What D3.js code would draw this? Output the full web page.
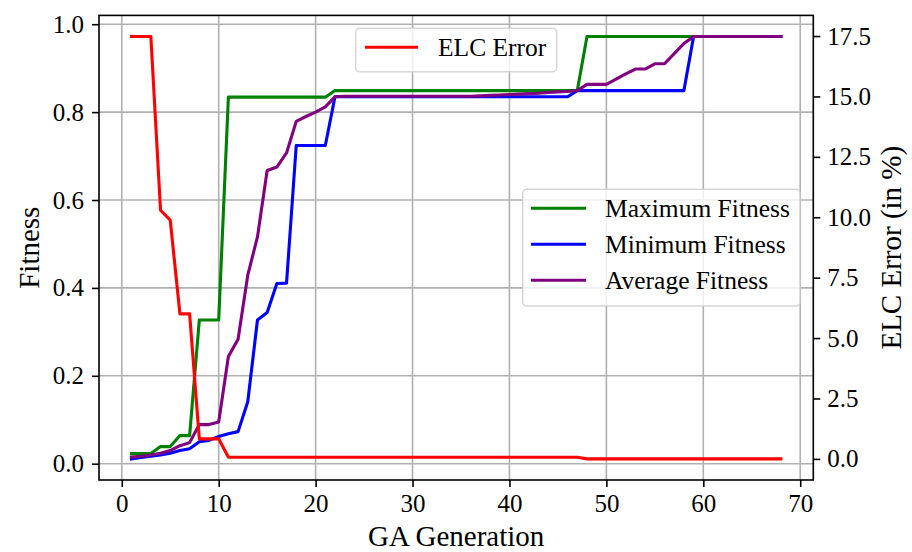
<!DOCTYPE html>
<html><head><meta charset="utf-8">
<script src="https://cdn.jsdelivr.net/npm/d3@7"></script>
<style>
body{margin:0;background:#fff}
svg{display:block}
text{font-family:"Liberation Serif","Times New Roman",serif;fill:#000}
</style>
</head><body><svg id="c" width="912" height="552"></svg>
<script>
const generations = [1,2,3,4,5,6,7,8,9,10,11,12,13,14,15,16,17,18,19,20,21,22,23,24,25,26,27,28,29,30,31,32,33,34,35,36,37,38,39,40,41,42,43,44,45,46,47,48,49,50,51,52,53,54,55,56,57,58,59,60,61,62,63,64,65,66,67,68];
const maxFitness = [0.023,0.023,0.023,0.039,0.039,0.064,0.064,0.327,0.327,0.327,
  0.834,0.834,0.834,0.834,0.834,0.834,0.834,0.834,0.834,0.834,0.834,
  0.849,0.849,0.849,0.849,0.849,0.849,0.849,0.849,0.849,0.849,0.849,0.849,0.849,0.849,0.849,0.849,0.849,0.849,0.849,0.849,0.849,0.849,0.849,0.849,0.849,0.849,
  0.972,0.972,0.972,0.972,0.972,0.972,0.972,0.972,0.972,0.972,0.972,0.972,0.972,0.972,0.972,0.972,0.972,0.972,0.972,0.972,0.972];
const minFitness = [0.011,0.014,0.017,0.020,0.024,0.030,0.034,0.050,0.053,0.062,0.068,0.073,0.141,0.327,0.344,0.410,0.411,0.724,0.724,0.724,0.724,
  0.835,0.835,0.835,0.835,0.835,0.835,0.835,0.835,0.835,0.835,0.835,0.835,0.835,0.835,0.835,0.835,0.835,0.835,0.835,0.835,0.835,0.835,0.835,0.835,0.835,
  0.849,0.849,0.849,0.849,0.849,0.849,0.849,0.849,0.849,0.849,0.849,0.849,
  0.972,0.972,0.972,0.972,0.972,0.972,0.972,0.972,0.972,0.972];
const avgFitness = [0.015,0.017,0.020,0.024,0.030,0.041,0.048,0.089,0.089,0.095,0.244,0.283,0.429,0.516,0.667,0.675,0.707,0.779,0.790,0.800,0.812,
  0.835,0.836,0.836,0.836,0.836,0.836,0.836,0.836,0.836,0.836,0.836,0.836,0.836,0.836,0.836,
  0.837,0.838,0.839,0.840,0.841,0.842,0.843,0.845,0.846,0.847,0.849,
  0.863,0.863,0.863,0.875,0.887,0.898,0.898,0.910,0.910,0.933,0.956,
  0.972,0.972,0.972,0.972,0.972,0.972,0.972,0.972,0.972,0.972];
const elcError = [17.48,17.48,17.48,10.29,9.88,6.0,6.0,0.83,0.83,0.83,
  0.07,0.07,0.07,0.07,0.07,0.07,0.07,0.07,0.07,0.07,0.07,0.07,0.07,0.07,0.07,0.07,0.07,0.07,0.07,0.07,0.07,0.07,0.07,0.07,0.07,0.07,0.07,0.07,0.07,0.07,0.07,0.07,0.07,0.07,0.07,0.07,0.07,
  0.0,0.0,0.0,0.0,0.0,0.0,0.0,0.0,0.0,0.0,0.0,0.0,0.0,0.0,0.0,0.0,0.0,0.0,0.0,0.0,0.0];
const xTicks = [0,10,20,30,40,50,60,70];
const yLeftTicks = [0.0,0.2,0.4,0.6,0.8,1.0];
const yRightTicks = [0.0,2.5,5.0,7.5,10.0,12.5,15.0,17.5];
const fitnessSeries = [
  {name:"Maximum Fitness", values:maxFitness, color:"green"},
  {name:"Minimum Fitness", values:minFitness, color:"blue"},
  {name:"Average Fitness", values:avgFitness, color:"purple"}
];

const L = 99, R = 813.3, T = 15.4, B = 480;
const pad = (arr) => { const lo = d3.min(arr), hi = d3.max(arr), r = hi - lo; return [lo - 0.05*r, hi + 0.05*r]; };
const x = d3.scaleLinear().domain(pad(generations)).range([L, R]);
const yL = d3.scaleLinear().domain(pad([...maxFitness, ...minFitness, ...avgFitness])).range([B, T]);
const yR = d3.scaleLinear().domain(pad(elcError)).range([B, T]);

const svg = d3.select("#c");
svg.append("rect").attr("width",912).attr("height",552).attr("fill","#fff");

// grid
const grid = svg.append("g").attr("stroke","#b0b0b0").attr("stroke-width",1.6);
grid.selectAll("line.v").data(xTicks).join("line").attr("class","v")
  .attr("x1",d=>x(d)).attr("x2",d=>x(d)).attr("y1",T).attr("y2",B);
grid.selectAll("line.h").data(yLeftTicks).join("line").attr("class","h")
  .attr("y1",d=>yL(d)).attr("y2",d=>yL(d)).attr("x1",L).attr("x2",R);

svg.append("clipPath").attr("id","pc").append("rect").attr("x",L).attr("y",T).attr("width",R-L).attr("height",B-T);

const lineL = d3.line().x((d,i)=>x(generations[i])).y(d=>yL(d));
const lineR = d3.line().x((d,i)=>x(generations[i])).y(d=>yR(d));

const gl = svg.append("g").attr("clip-path","url(#pc)");
gl.selectAll("path").data(fitnessSeries).join("path")
  .attr("d",d=>lineL(d.values)).attr("fill","none").attr("stroke",d=>d.color)
  .attr("stroke-width",3.1).attr("stroke-linejoin","round").attr("stroke-linecap","square");

// fitness legend
const lg1 = svg.append("g");
lg1.append("rect").attr("x",522.7).attr("y",189.3).attr("width",277.3).attr("height",116.7).attr("rx",4)
  .attr("fill","#fff").attr("fill-opacity",0.8).attr("stroke","#cccccc").attr("stroke-opacity",0.8).attr("stroke-width",1.6);
fitnessSeries.forEach((s,i)=>{
  const yy = 208.3 + i*36;
  lg1.append("line").attr("x1",531).attr("x2",586).attr("y1",yy).attr("y2",yy).attr("stroke",s.color).attr("stroke-width",3.1);
  lg1.append("text").attr("x",605).attr("y",yy+8.5).attr("font-size",25.5).text(s.name);
});

// ELC line
svg.append("g").attr("clip-path","url(#pc)").append("path")
  .attr("d",lineR(elcError)).attr("fill","none").attr("stroke","red")
  .attr("stroke-width",3.1).attr("stroke-linejoin","round").attr("stroke-linecap","square");

// ELC legend
const lg2 = svg.append("g");
lg2.append("rect").attr("x",355.7).attr("y",28.3).attr("width",201).attr("height",43.4).attr("rx",4)
  .attr("fill","#fff").attr("fill-opacity",0.8).attr("stroke","#cccccc").attr("stroke-opacity",0.8).attr("stroke-width",1.6);
lg2.append("line").attr("x1",365).attr("x2",418).attr("y1",47.3).attr("y2",47.3).attr("stroke","red").attr("stroke-width",3.1);
lg2.append("text").attr("x",438).attr("y",56.3).attr("font-size",25.5).text("ELC Error");

// spines
svg.append("rect").attr("x",L).attr("y",T).attr("width",R-L).attr("height",B-T)
  .attr("fill","none").attr("stroke","#000").attr("stroke-width",1.6);

// axes
function styleAxis(g){
  g.select(".domain").remove();
  g.selectAll(".tick line").attr("stroke","#000").attr("stroke-width",1.6);
  g.selectAll(".tick text").attr("font-size",25).attr("font-family","Liberation Serif, Times New Roman, serif").attr("fill","#000");
}
svg.append("g").attr("transform",`translate(0,${B})`)
  .call(d3.axisBottom(x).tickValues(xTicks).tickFormat(d3.format("d")).tickSize(7).tickPadding(7)).call(styleAxis);
svg.append("g").attr("transform",`translate(${L},0)`)
  .call(d3.axisLeft(yL).tickValues(yLeftTicks).tickFormat(d3.format(".1f")).tickSize(7).tickPadding(8)).call(styleAxis);
svg.append("g").attr("transform",`translate(${R},0)`)
  .call(d3.axisRight(yR).tickValues(yRightTicks).tickFormat(d3.format(".1f")).tickSize(7).tickPadding(7)).call(styleAxis);

// axis labels
svg.append("text").attr("x",(L+R)/2).attr("y",546).attr("text-anchor","middle").attr("font-size",29).text("GA Generation");
svg.append("text").attr("transform",`translate(38.5,${(T+B)/2}) rotate(-90)`).attr("text-anchor","middle").attr("font-size",29).text("Fitness");
svg.append("text").attr("transform",`translate(900.5,${(T+B)/2}) rotate(-90)`).attr("text-anchor","middle").attr("font-size",29).text("ELC Error (in %)");
</script>
</body></html>
